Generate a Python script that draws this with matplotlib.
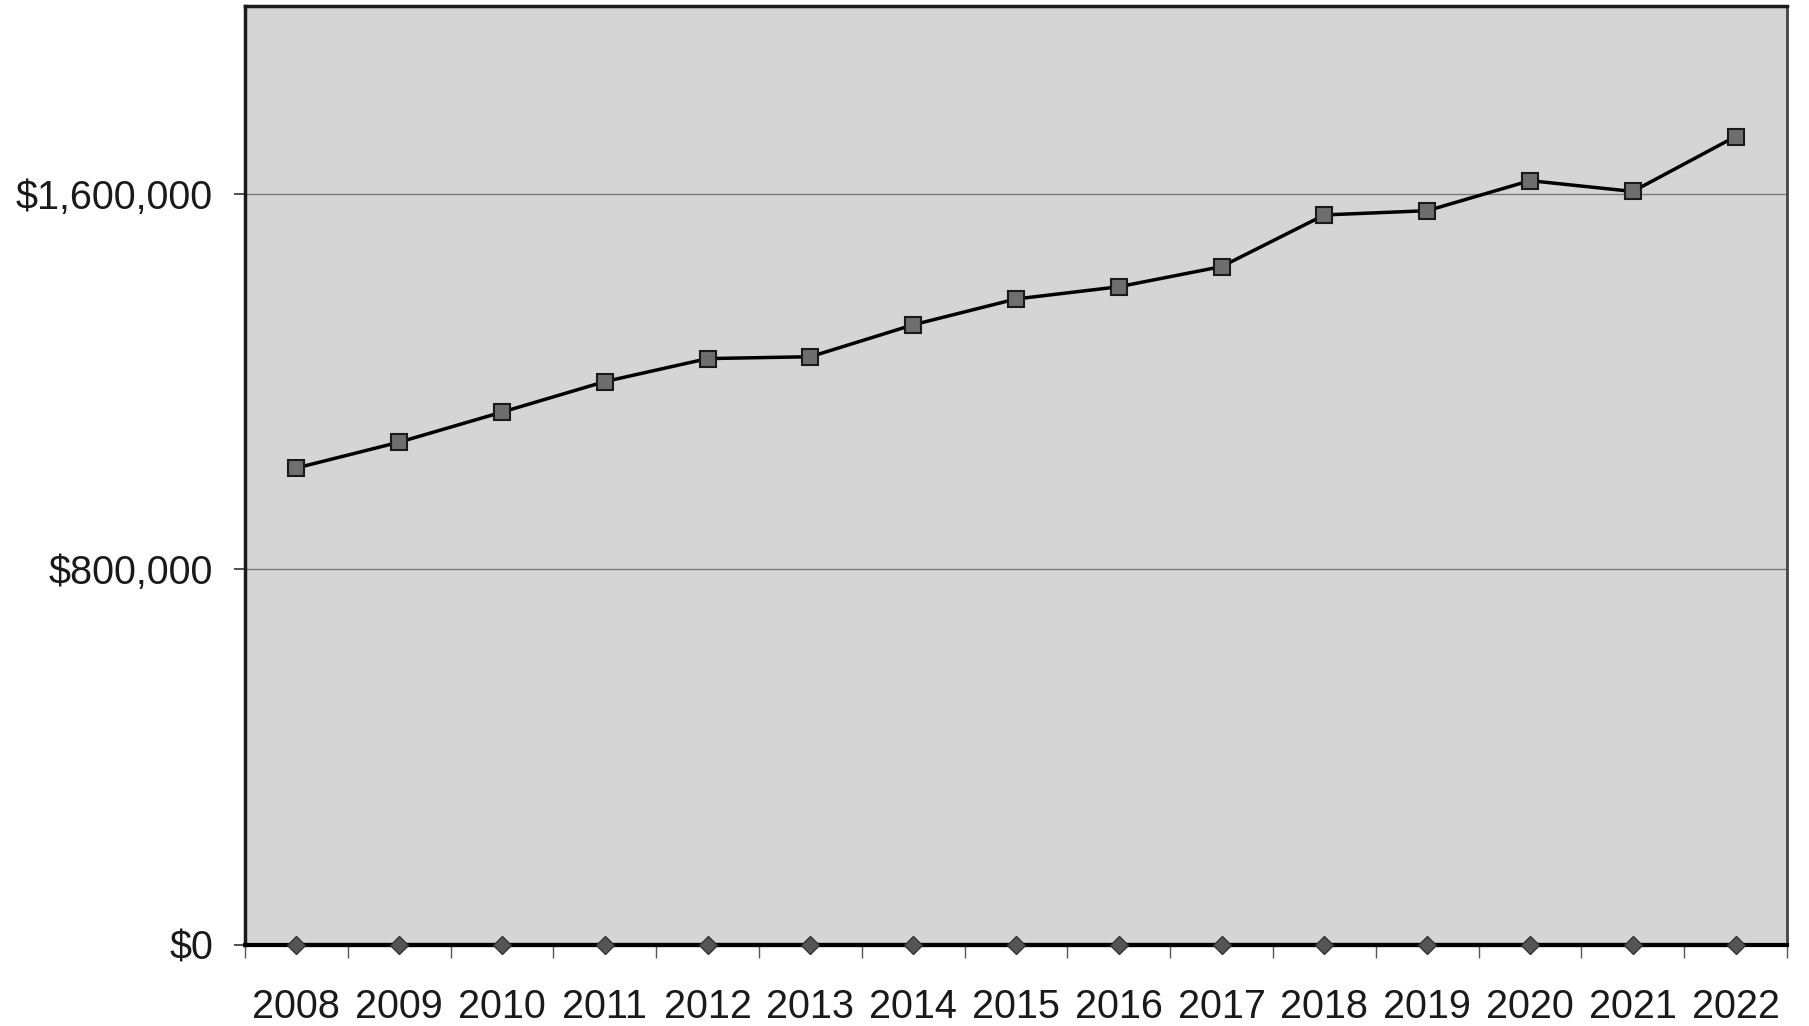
import matplotlib
matplotlib.use("Agg")
import matplotlib.pyplot as plt
from matplotlib.ticker import FuncFormatter, FixedLocator
import numpy as np

years = ["2008", "2009", "2010", "2011", "2012", "2013", "2014", "2015",
         "2016", "2017", "2018", "2019", "2020", "2021", "2022"]
totals = [1016000, 1071000, 1135000, 1200000, 1249000, 1253000, 1321000,
          1376000, 1402000, 1445000, 1555000, 1564000, 1628000, 1605000,
          1722000]
baseline = [0] * len(years)
y_ticks = [0, 800000, 1600000]

plt.rcParams['font.family'] = ['Liberation Sans', 'DejaVu Sans']

fig = plt.figure(figsize=(18.09, 10.26), dpi=100)
ax = fig.add_axes([245/1809, 1-945/1026, (1787-245)/1809, (945-6)/1026])
ax.set_facecolor('#d5d5d5')

x = np.arange(len(years))
ax.plot(x, baseline, color='black', lw=3, marker='D', markersize=9,
        markerfacecolor='#555555', markeredgecolor='#333333', zorder=4,
        clip_on=False)
ax.plot(x, totals, color='black', lw=2.5, marker='s', markersize=11.5,
        markerfacecolor='#6e6e6e', markeredgecolor='#1a1a1a',
        markeredgewidth=1.5, zorder=5)

ax.set_xlim(-0.5, len(years) - 0.5)
ax.set_ylim(0, 2000000)

ax.set_yticks(y_ticks)
ax.yaxis.set_major_formatter(FuncFormatter(lambda v, p: f"${v:,.0f}"))
ax.grid(axis='y', color='#7a7a7a', lw=1.0)
ax.set_axisbelow(True)

ax.set_xticks(x)
ax.set_xticklabels(years)
ax.xaxis.set_minor_locator(FixedLocator(np.arange(-0.5, len(years), 1.0)))
ax.tick_params(axis='x', which='major', length=0, pad=31, labelsize=28.5,
               colors='#1a1a1a')
ax.tick_params(axis='x', which='minor', length=9, width=1, color='#555555',
               direction='out')
ax.tick_params(axis='y', length=8, width=1.2, pad=15, labelsize=28.5,
               colors='#1a1a1a', color='#333333')

for side in ['top', 'left']:
    ax.spines[side].set_linewidth(2.5)
    ax.spines[side].set_color('#1a1a1a')
ax.spines['right'].set_linewidth(2.0)
ax.spines['right'].set_color('#444444')
ax.spines['bottom'].set_linewidth(3)
ax.spines['bottom'].set_color('black')

fig.savefig('out.png', dpi=100, facecolor='white')
